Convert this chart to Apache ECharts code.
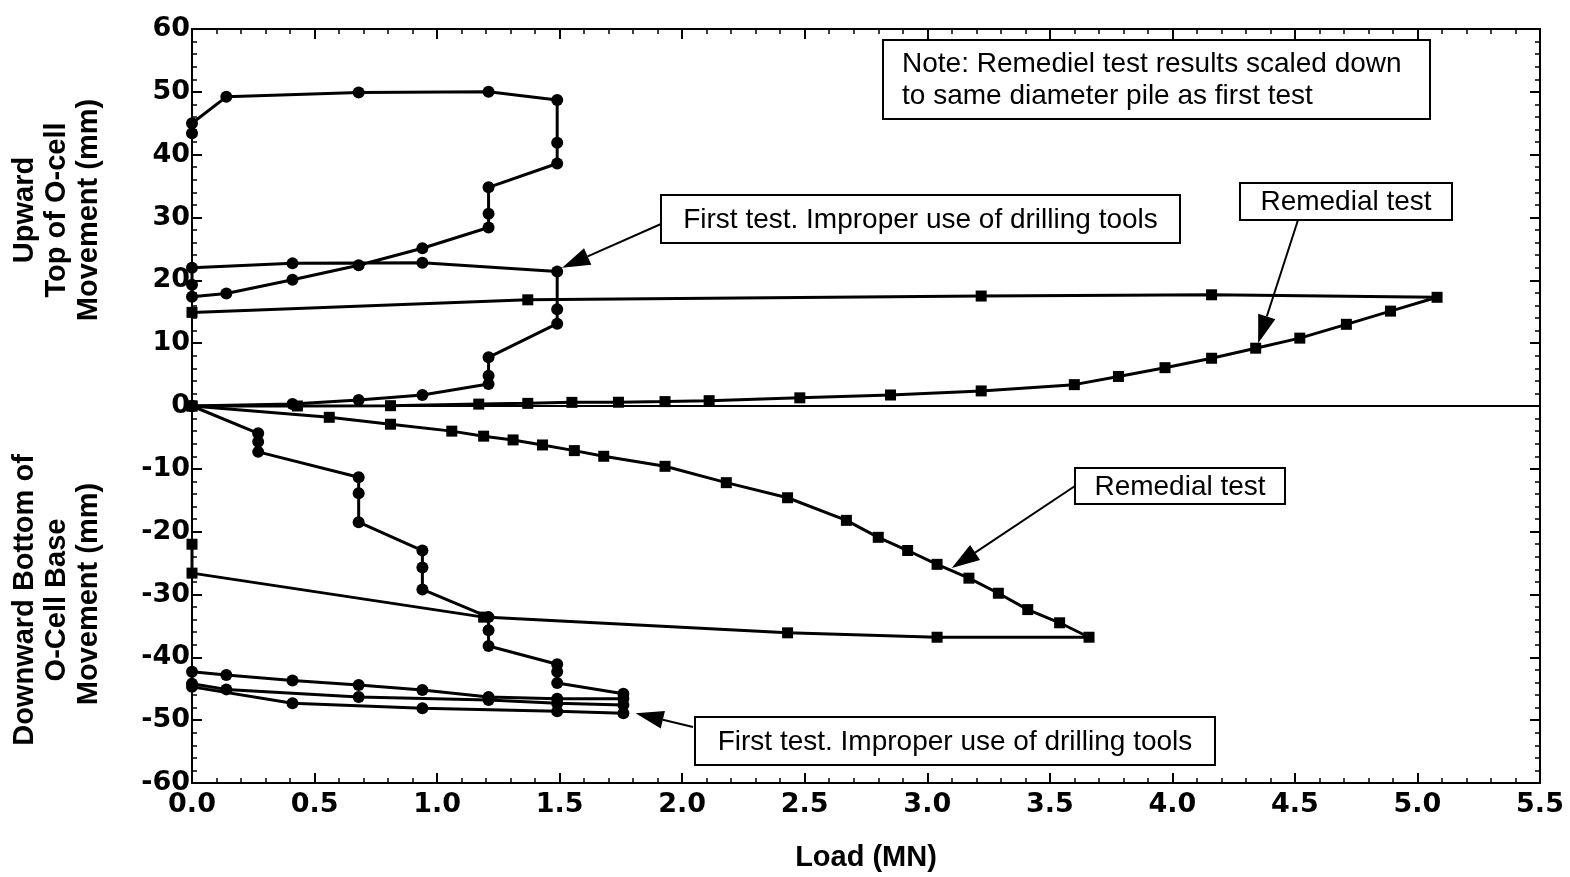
<!DOCTYPE html>
<html lang="en">
<head>
<meta charset="UTF-8">
<title>O-cell load movement</title>
<style>
  html, body { margin: 0; padding: 0; background: #fff; }
  #main { width: 1570px; height: 877px; }
</style>
</head>
<body>
<div id="main"></div>
<script src="https://cdn.jsdelivr.net/npm/echarts@6/dist/echarts.min.js"></script>
<script>
// load (MN), movement (mm)
var firstUp = [
  [0, 0], [0.41, 0.3], [0.68, 0.96], [0.94, 1.75], [1.21, 3.5], [1.21, 4.8], [1.21, 7.75],
  [1.49, 13.1], [1.49, 15.4], [1.49, 21.4], [0.94, 22.8], [0.41, 22.7], [0, 22.0], [0, 19.3],
  [0, 17.4], [0.14, 17.9], [0.41, 20.1], [0.68, 22.4], [0.94, 25.1], [1.21, 28.4], [1.21, 30.6],
  [1.21, 34.8], [1.49, 38.6], [1.49, 41.9], [1.49, 48.7], [1.21, 50.0], [0.68, 49.9],
  [0.14, 49.2], [0, 45.0], [0, 43.4]
];
var firstDown = [
  [0, 0], [0.27, -4.35], [0.27, -5.7], [0.27, -7.3], [0.68, -11.35], [0.68, -13.9], [0.68, -18.5],
  [0.94, -23.0], [0.94, -25.7], [0.94, -29.2], [1.21, -33.6], [1.21, -35.7], [1.21, -38.2],
  [1.49, -41.1], [1.49, -42.3], [1.49, -44.1], [1.76, -45.8], [1.76, -46.6], [1.49, -46.6],
  [1.21, -46.3], [0.94, -45.2], [0.68, -44.4], [0.41, -43.7], [0.14, -42.8], [0, -42.3],
  [0, -44.2], [0.14, -45.1], [0.68, -46.3], [1.21, -46.8], [1.49, -47.3], [1.76, -47.6],
  [1.76, -48.9], [1.49, -48.6], [0.94, -48.1], [0.41, -47.3], [0, -44.7]
];
var remedialUp = [
  [0, 0], [0.43, 0.0], [0.81, 0.05], [1.17, 0.3], [1.37, 0.42], [1.55, 0.58], [1.74, 0.6],
  [1.93, 0.7], [2.11, 0.85], [2.48, 1.3], [2.85, 1.75], [3.22, 2.4], [3.6, 3.4], [3.78, 4.7],
  [3.97, 6.1], [4.16, 7.6], [4.34, 9.2], [4.52, 10.8], [4.71, 13.0], [4.89, 15.1], [5.08, 17.3],
  [4.16, 17.7], [3.22, 17.5], [1.37, 16.9], [0, 14.9]
];
var remedialDown = [
  [0, 0], [0.56, -1.8], [0.81, -2.9], [1.06, -4.0], [1.19, -4.8], [1.31, -5.4], [1.43, -6.2],
  [1.56, -7.1], [1.68, -8.0], [1.93, -9.6], [2.18, -12.2], [2.43, -14.6], [2.67, -18.2],
  [2.80, -20.9], [2.92, -23.0], [3.04, -25.2], [3.17, -27.4], [3.29, -29.8], [3.41, -32.4],
  [3.54, -34.5], [3.66, -36.8], [3.04, -36.8], [2.43, -36.1], [1.19, -33.6], [0, -26.6], [0, -22.0]
];

var FONT = '"Liberation Sans", Arial, sans-serif';
var TICKFONT = '"DejaVu Sans", sans-serif';

var chart = echarts.init(document.getElementById('main'));

function mkAxis(pos, labels) {
  var isX = pos === 'bottom' || pos === 'top';
  return {
    type: 'value',
    position: pos,
    min: isX ? 0 : -60,
    max: isX ? 5.5 : 60,
    interval: isX ? 0.5 : 10,
    axisLine: { show: true, onZero: false, lineStyle: { color: '#000', width: 2 } },
    axisTick: { show: true, inside: true, length: 10, lineStyle: { color: '#000', width: 2 } },
    minorTick: { show: true, splitNumber: 5, length: 5, lineStyle: { color: '#000', width: 1.5 } },
    splitLine: { show: false },
    axisLabel: labels ? {
      show: true,
      color: '#000',
      fontFamily: TICKFONT,
      fontWeight: 'bold',
      fontSize: 27,
      margin: isX ? 8 : 2,
      formatter: isX ? function (v) { return v.toFixed(1); } : '{value}'
    } : { show: false }
  };
}

function lineSeries(name, data, sym) {
  return {
    name: name,
    type: 'line',
    data: data,
    symbol: sym,
    symbolSize: sym === 'rect' ? 11 : 12,
    showSymbol: true,
    animation: false,
    itemStyle: { color: '#000' },
    lineStyle: { color: '#000', width: 3 }
  };
}

var xA = mkAxis('bottom', true);
xA.name = 'Load (MN)';
xA.nameLocation = 'middle';
xA.nameGap = 60;
xA.nameTextStyle = { color: '#000', fontFamily: FONT, fontWeight: 'bold', fontSize: 29 };

var option = {
  animation: false,
  grid: { left: 192, right: 30, top: 29, bottom: 94, containLabel: false, outerBoundsMode: 'none' },
  xAxis: [xA, mkAxis('top', false)],
  yAxis: [mkAxis('left', true), mkAxis('right', false)],
  series: [
    lineSeries('First test up', firstUp, 'circle'),
    lineSeries('First test down', firstDown, 'circle'),
    lineSeries('Remedial up', remedialUp, 'rect'),
    lineSeries('Remedial down', remedialDown, 'rect')
  ]
};
option.series[2].markLine = {
  silent: true,
  symbol: 'none',
  label: { show: false },
  lineStyle: { color: '#000', width: 2, type: 'solid' },
  data: [{ yAxis: 0 }]
};
chart.setOption(option);

// annotation boxes (pixels) and the curve point each arrow points to (data units)
var notes = [
  { box: [883, 40, 547, 79], lines: ['Note: Remediel test results scaled down', 'to same diameter pile as first test'], align: 'left', gap: 32 },
  { box: [661, 195, 519, 48], lines: ['First test. Improper use of drilling tools'], from: [661, 224], to: [1.51, 22.0] },
  { box: [1240, 183, 212, 37], lines: ['Remedial test'], from: [1298, 220], to: [4.35, 10.0] },
  { box: [1075, 468, 210, 36], lines: ['Remedial test'], from: [1075, 486], to: [3.10, -25.8] },
  { box: [695, 717, 520, 48], lines: ['First test. Improper use of drilling tools'], from: [693, 727], to: [1.81, -48.9] }
];

var g = [];
notes.forEach(function (n) {
  var b = n.box;
  g.push({
    type: 'rect', z: 100,
    shape: { x: b[0], y: b[1], width: b[2], height: b[3] },
    style: { fill: '#fff', stroke: '#000', lineWidth: 2 }
  });
  var cy = b[1] + b[3] / 2;
  var gap = n.gap || 0;
  n.lines.forEach(function (t, i) {
    g.push({
      type: 'text', z: 101,
      x: n.align === 'left' ? b[0] + 19 : b[0] + b[2] / 2,
      y: cy + (i - (n.lines.length - 1) / 2) * gap + 1,
      style: {
        text: t, fill: '#000', font: '28px ' + FONT,
        textAlign: n.align === 'left' ? 'left' : 'center', textVerticalAlign: 'middle'
      }
    });
  });
  if (n.to) {
    var tip = chart.convertToPixel({ gridIndex: 0 }, n.to);
    var dx = tip[0] - n.from[0], dy = tip[1] - n.from[1];
    var len = Math.sqrt(dx * dx + dy * dy);
    var ux = dx / len, uy = dy / len;
    var hl = 28, hw = 9;
    var bx = tip[0] - ux * hl, by = tip[1] - uy * hl;
    g.push({
      type: 'line', z: 99,
      shape: { x1: n.from[0], y1: n.from[1], x2: bx, y2: by },
      style: { stroke: '#000', lineWidth: 2 }
    });
    g.push({
      type: 'polygon', z: 99,
      shape: { points: [tip, [bx - uy * hw, by + ux * hw], [bx + uy * hw, by - ux * hw]] },
      style: { fill: '#000' }
    });
  }
});

// rotated y-axis titles
var yTitles = [
  { x: 25, y: 210, t: 'Upward' },
  { x: 57, y: 210, t: 'Top of O-cell' },
  { x: 89, y: 210, t: 'Movement (mm)' },
  { x: 25, y: 600, t: 'Downward Bottom of' },
  { x: 57, y: 600, t: 'O-Cell Base' },
  { x: 89, y: 594, t: 'Movement (mm)' }
];
yTitles.forEach(function (o) {
  g.push({
    type: 'text', x: o.x, y: o.y, rotation: Math.PI / 2,
    style: {
      text: o.t, fill: '#000', font: 'bold 29px ' + FONT,
      textAlign: 'center', textVerticalAlign: 'middle'
    }
  });
});

chart.setOption({ graphic: g });
window.onresize = chart.resize;
</script>
</body>
</html>
